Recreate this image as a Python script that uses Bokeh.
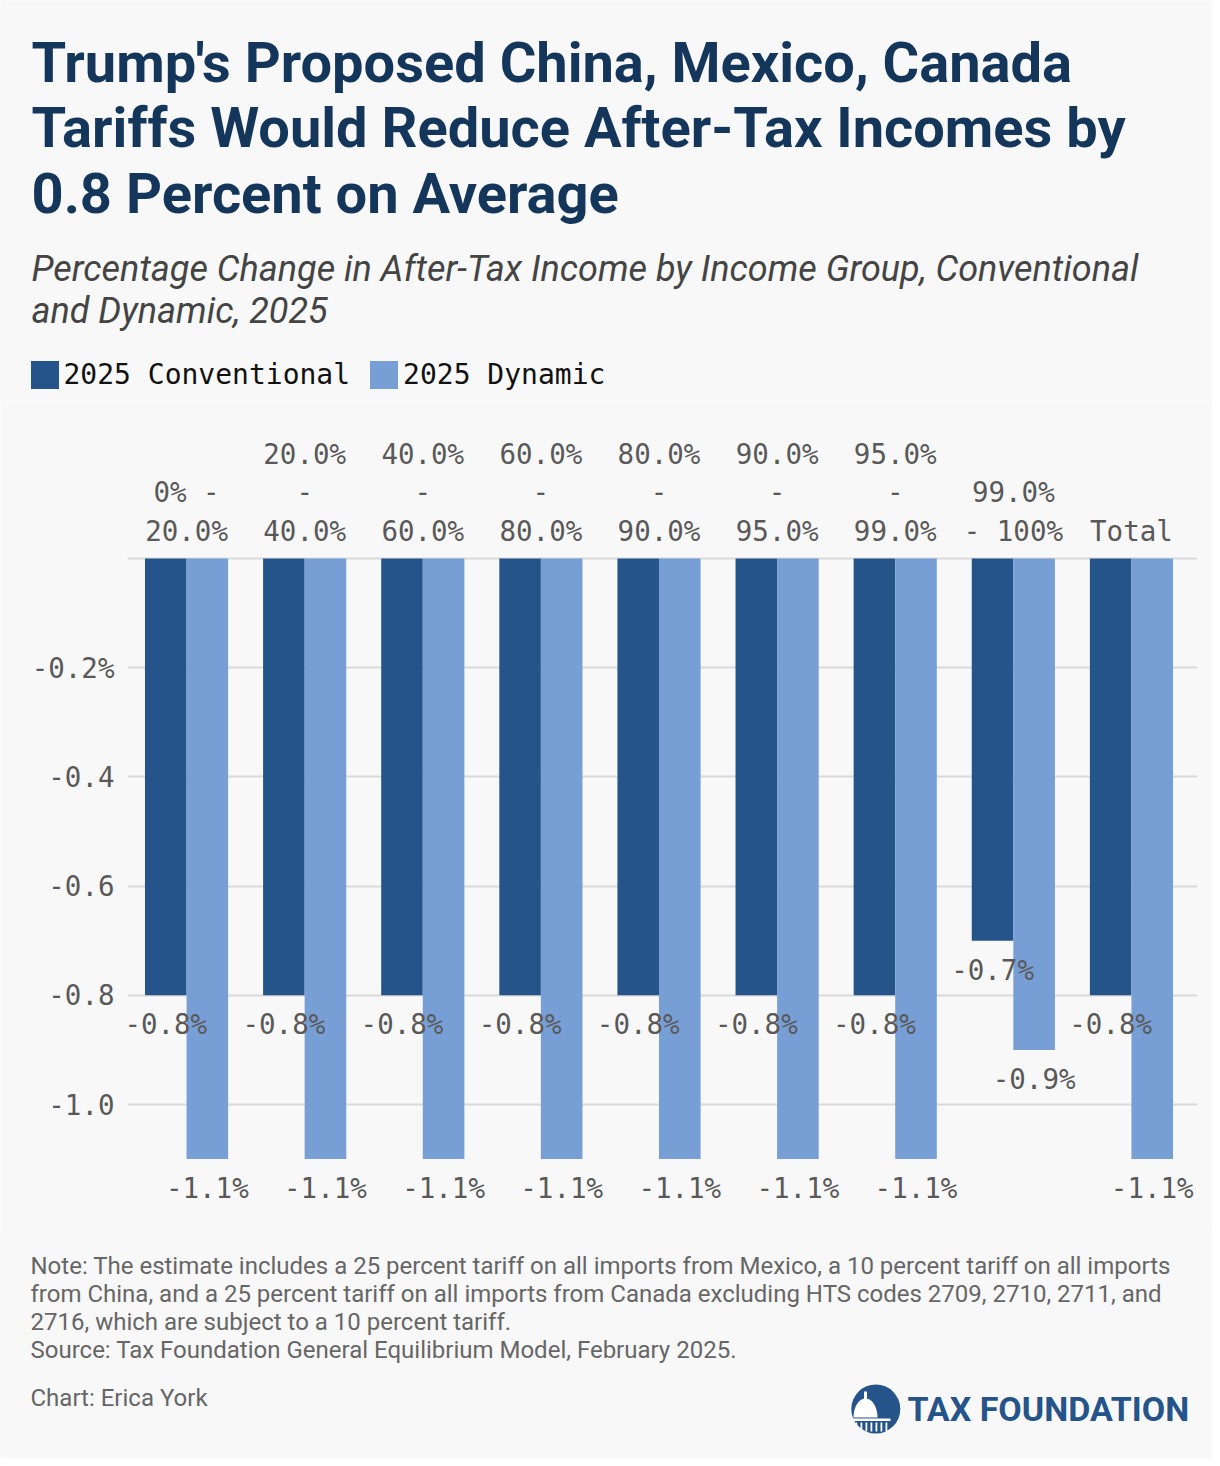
import numpy as np
from bokeh.plotting import figure
from bokeh.layouts import column
from bokeh.models import (Range1d, FixedTicker, Label, Legend, LegendItem, ColumnDataSource)
from bokeh.transform import dodge
from bokeh.core.properties import value
from bokeh.embed import file_html
from bokeh.resources import INLINE

# ---------------- data ----------------
categories = ["0% -\n20.0%", "20.0%\n-\n40.0%", "40.0%\n-\n60.0%", "60.0%\n-\n80.0%",
              "80.0%\n-\n90.0%", "90.0%\n-\n95.0%", "95.0%\n-\n99.0%", "99.0%\n- 100%", "Total"]
conventional = [-0.8, -0.8, -0.8, -0.8, -0.8, -0.8, -0.8, -0.7, -0.8]
dynamic = [-1.1, -1.1, -1.1, -1.1, -1.1, -1.1, -1.1, -0.9, -1.1]
y_ticks = [0.0, -0.2, -0.4, -0.6, -0.8, -1.0]
y_tick_labels = ["", "-0.2%", "-0.4", "-0.6", "-0.8", "-1.0"]
series_names = ["2025 Conventional", "2025 Dynamic"]

title_lines = ["Trump's Proposed China, Mexico, Canada",
               "Tariffs Would Reduce After-Tax Incomes by",
               "0.8 Percent on Average"]
subtitle_lines = ["Percentage Change in After-Tax Income by Income Group, Conventional",
                  "and Dynamic, 2025"]
note_lines = ["Note: The estimate includes a 25 percent tariff on all imports from Mexico, a 10 percent tariff on all imports",
              "from China, and a 25 percent tariff on all imports from Canada excluding HTS codes 2709, 2710, 2711, and",
              "2716, which are subject to a 10 percent tariff.",
              "Source: Tax Foundation General Equilibrium Model, February 2025."]
credit = "Chart: Erica York"
logo_text = "TAX FOUNDATION"

# ---------------- style ----------------
DARK = "#24548a"
LIGHT = "#779ed5"
BG = "#f8f8f8"
TITLE_C = "#14365a"
GRAY = "#595959"
MONO = "DejaVu Sans Mono"
W = 1212
TOP_H, MAIN_H, BOT_H = 400, 830, 228          # stacked figure heights
FL, GRID_R, FR = 127, 1190, 1197               # frame x edges (frame a bit wider so edge labels fit)
GROUP_PX = (GRID_R - FL) / len(categories)
FT, FB = 556 - TOP_H, 1215 - TOP_H             # frame y edges inside main figure
PX_PER_UNIT = 546.0
ZERO_Y = 558 - TOP_H
y1 = (ZERO_Y - FT) / PX_PER_UNIT
y0 = -(FB - ZERO_Y) / PX_PER_UNIT
BASE_SHIFT = 0.36   # em, compensates Bokeh's alphabetic anchor


def blank(height, y_top):
    f = figure(width=W, height=height, x_range=Range1d(0, W),
               y_range=Range1d(y_top + height, y_top),
               x_axis_location=None, y_axis_location=None, title=None,
               toolbar_location=None, output_backend="svg", min_border=0,
               frame_align=False,
               background_fill_color=BG, border_fill_color=BG, outline_line_color=None)
    f.grid.visible = False
    return f


def label(f, x, y, text, size, color, style="normal", font="Roboto"):
    f.add_layout(Label(x=x, y=y - BASE_SHIFT * size, text=text, text_font=font,
                       text_font_style=style, text_font_size=f"{size}px",
                       text_color=color, text_baseline="alphabetic"))


# ---------------- header ----------------
p_top = blank(TOP_H, 0)
for line, base in zip(title_lines, [82.7, 147.5, 213.3]):
    label(p_top, 31, base, line, 56, TITLE_C, "bold")
for line, base in zip(subtitle_lines, [281.5, 323.0]):
    label(p_top, 31, base, line, 36, "#444444", "italic")

# legend proxies (single point kept outside the visible range)
d1 = p_top.vbar(x=[-500], top=[-500], width=1, fill_color=DARK, line_color=None)
d2 = p_top.vbar(x=[-500], top=[-500], width=1, fill_color=LIGHT, line_color=None)
GLYPH = 35  # bokeh insets area glyphs by 10% -> 28px swatch
legend = Legend(items=[LegendItem(label=series_names[0], renderers=[d1]),
                       LegendItem(label=series_names[1], renderers=[d2])],
                location=(26.5, TOP_H - 391.5), orientation="horizontal",
                glyph_width=GLYPH, glyph_height=GLYPH, label_standoff=2, spacing=16,
                padding=0, margin=0, background_fill_alpha=0, border_line_color=None,
                label_text_font=MONO, label_text_font_size="28px",
                label_text_color="#111111", label_height=GLYPH)
p_top.add_layout(legend)

# ---------------- chart ----------------
src = ColumnDataSource(dict(
    x=list(range(len(categories))),
    conv=conventional,
    dyn=dynamic,
    conv_lab=[f"{v:.1f}%" for v in conventional],
    dyn_lab=[f"{v:.1f}%" for v in dynamic],
))

x_end = -0.5 + (FR - FL) / GROUP_PX
p = figure(width=W, height=MAIN_H, x_range=Range1d(-0.5, x_end),
           y_range=Range1d(y0, y1), x_axis_location="above", title=None,
           toolbar_location=None, output_backend="svg", frame_align=False,
           background_fill_color=BG, border_fill_color=BG, outline_line_color=None,
           min_border_left=FL, min_border_right=W - FR,
           min_border_top=FT, min_border_bottom=MAIN_H - FB)

BW = 0.352
OFF = BW / 2
p.vbar(x=dodge('x', -OFF, range=p.x_range), top=0, bottom='conv', width=BW,
       source=src, fill_color=DARK, line_color=None)
p.vbar(x=dodge('x', OFF, range=p.x_range), top=0, bottom='dyn', width=BW,
       source=src, fill_color=LIGHT, line_color=None)

for col, off in (("conv", -OFF), ("dyn", OFF)):
    p.text(x=dodge('x', off, range=p.x_range), y=col, text=col + "_lab", source=src,
           text_font=value(MONO), text_font_size="27.5px", text_color=GRAY,
           text_align="center", text_baseline="middle", y_offset=29)

xa = p.xaxis[0]
xa.ticker = FixedTicker(ticks=list(range(len(categories))))
xa.major_label_overrides = {i: c for i, c in enumerate(categories)}
xa.axis_line_color = None
xa.major_tick_line_color = None
xa.minor_tick_line_color = None
xa.major_label_standoff = 4
xa.major_label_text_font = MONO
xa.major_label_text_font_size = "27.5px"
xa.major_label_text_color = GRAY

ya = p.yaxis[0]
ya.ticker = FixedTicker(ticks=y_ticks)
ya.major_label_overrides = {t: l for t, l in zip(y_ticks, y_tick_labels)}
ya.axis_line_color = None
ya.major_tick_line_color = None
ya.minor_tick_line_color = None
ya.major_label_standoff = 7
ya.major_label_text_font = MONO
ya.major_label_text_font_size = "27.5px"
ya.major_label_text_color = GRAY

p.xgrid.visible = False
p.ygrid.grid_line_color = "#d9d9d9"
p.ygrid.grid_line_width = 2

# ---------------- footer ----------------
BOT_Y = TOP_H + MAIN_H
p_bot = blank(BOT_H, BOT_Y)
for line, base in zip(note_lines, [1274.0, 1302.2, 1330.4, 1358.4]):
    label(p_bot, 30, base, line, 24, "#666666")
label(p_bot, 30, 1405.7, credit, 24, "#666666")
label(p_bot, 907, 1420.7, logo_text, 34, DARK, "bold")

# logo emblem (circle with a white capitol dome)
p_bot.circle(x=[875.3], y=[1408.5], radius=24.5, fill_color=DARK, line_color=None)
ang = np.linspace(0, np.pi, 30)
p_bot.patch(x=list(865 + 12 * np.cos(ang)), y=list(1417 - 19 * np.sin(ang)),
            fill_color="white", line_color=None)
p_bot.quad(left=[863.5], right=[866.5], top=[1391], bottom=[1399], fill_color="white", line_color=None)
p_bot.quad(left=[851], right=[890], top=[1418], bottom=[1420.5], fill_color="white", line_color=None)
p_bot.quad(left=[855 + 5 * k for k in range(7)], right=[856.8 + 5 * k for k in range(7)],
           top=[1422] * 7, bottom=[1431] * 7, fill_color="white", line_color=None)

layout = column(p_top, p, p_bot, spacing=0)
open("out.html", "w").write(file_html(layout, INLINE))
